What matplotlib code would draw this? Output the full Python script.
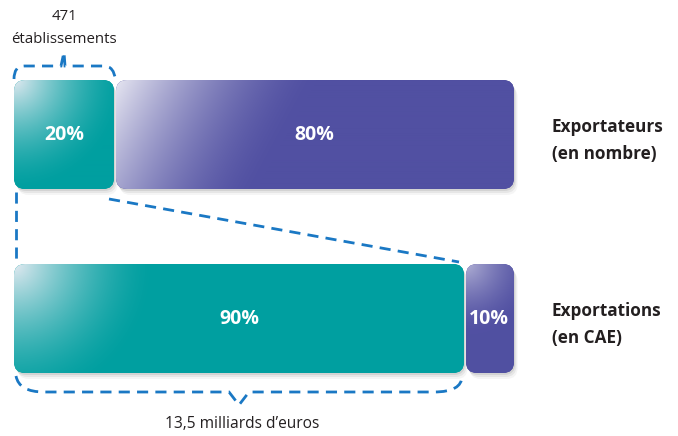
import numpy as np
import matplotlib
matplotlib.use("Agg")
import matplotlib.pyplot as plt
from matplotlib.patches import FancyBboxPatch, PathPatch
from matplotlib.path import Path
from matplotlib.colors import to_rgb

# ---------------- data ----------------
rows = ["Exportateurs\n(en nombre)", "Exportations\n(en CAE)"]
part_a = [20, 90]          # teal segment (%)
part_b = [80, 10]          # purple segment (%)
top_note = "471\nétablissements"
bottom_note = "13,5 milliards d\u2019euros"

# ---------------- style ----------------
TEAL = "#009fa0"
PURPLE = "#5150a2"
DASH = "#1a78c4"
FONT = ["Open Sans", "DejaVu Sans"]
plt.rcParams["font.family"] = FONT

W, H = 678, 436
fig = plt.figure(figsize=(W / 100, H / 100), dpi=100)
ax = fig.add_axes([0, 0, 1, 1])
PXX = 5.0                       # pixels per percent on x
X0 = 14                         # pixel of 0 %
ax.set_xlim(-X0 / PXX, (W - X0) / PXX)
ax.set_ylim(H, 0)
ax.axis("off")

row_top = [80, 264]
row_h = 109
gap = 0.4      # percent units (2 px)
rad = 2.2      # rounding in percent units (11 px)


def shaded_box(x, y, w, h, color, kind, L, wmax, direction=(1.0, 0.0), z=2):
    # shadow
    for off, a in [(6, 0.04), (4, 0.06), (2, 0.08)]:
        sh = FancyBboxPatch((x + off * 0.6 / PXX, y + off), w, h,
                            boxstyle=f"round,pad=0,rounding_size={rad}",
                            mutation_aspect=PXX, fc="black", ec="none",
                            alpha=a, zorder=z - 1)
        ax.add_patch(sh)
    p = FancyBboxPatch((x, y), w, h, boxstyle=f"round,pad=0,rounding_size={rad}",
                       mutation_aspect=PXX, fc=color, ec="none", zorder=z)
    ax.add_patch(p)
    npx_w = max(int(w * PXX), 2)
    npx_h = max(int(h), 2)
    xx, yy = np.meshgrid(np.arange(npx_w), np.arange(npx_h))
    if kind == "radial":
        d = np.sqrt(xx ** 2 + yy ** 2)
    else:
        dx, dy = direction
        n = np.hypot(dx, dy)
        d = (xx * dx + yy * dy) / n
    t = np.clip(1 - d / L, 0, 1) ** 1.6 * wmax
    base = np.array(to_rgb(color))
    img = base[None, None, :] * (1 - t[..., None]) + np.array([0.93, 0.93, 0.96])[None, None, :] * t[..., None]
    im = ax.imshow(img, extent=(x, x + w, y + h, y), origin="upper",
                   aspect="auto", zorder=z + 0.5, interpolation="bilinear")
    im.set_clip_path(p)
    return p


# top row
y = row_top[0]
shaded_box(0, y, part_a[0], row_h, TEAL, "radial", 110, 0.95)
shaded_box(part_a[0] + gap, y, part_b[0] - gap, row_h, PURPLE, "linear", 175, 0.95,
           direction=(109, 60))
# bottom row
y = row_top[1]
shaded_box(0, y, part_a[1], row_h, TEAL, "radial", 140, 0.95)
shaded_box(part_a[1] + gap, y, part_b[1] - gap, row_h, PURPLE, "radial", 70, 0.6)

# percentage labels
lbl_kw = dict(color="white", fontsize=14, fontweight="bold", ha="center",
              va="center", zorder=5)
for r in range(2):
    yc = row_top[r] + row_h / 2
    ax.text(part_a[r] / 2, yc, f"{part_a[r]}%", **lbl_kw)
    ax.text(part_a[r] + part_b[r] / 2, yc, f"{part_b[r]}%", **lbl_kw)

# row labels
for r in range(2):
    ax.text(107.6, row_top[r] + row_h / 2 + 6, rows[r], fontsize=12.3,
            fontweight="bold", color="#231f20", ha="left", va="center",
            linespacing=1.6)

# dashed connectors
dkw = dict(color=DASH, lw=2.0, linestyle=(0, (4, 2.6)), zorder=6)


def dpath(verts, codes):
    pp = PathPatch(Path(verts, codes), fill=False, ec=DASH, lw=2.0,
                   linestyle=(0, (4, 2.6)), zorder=6, capstyle="butt")
    ax.add_patch(pp)


# top brace over first teal segment
a = part_a[0]
mid = a / 2
M, C3, L2 = Path.MOVETO, Path.CURVE3, Path.LINETO
dpath([(0, 79), (0, 66), (10 / PXX, 66), (mid - 3 / PXX, 66), (mid, 52),
       (mid + 1 / PXX, 66), (mid + 5 / PXX, 66), (a - 10 / PXX, 66),
       (a, 66), (a + 0.3, 80)],
      [M, C3, C3, L2, L2, L2, L2, L2, C3, C3])

# vertical left line
ax.plot([0.4, 0.4], [192, 260], **dkw)
# diagonal line
ax.plot([a - 1, part_a[1] - 1], [199, 262], **dkw)

# bottom brace under second teal segment
b = part_a[1]
mid = b / 2
dpath([(0.4, 376), (1.0, 392), (30 / PXX, 392), (mid - 10 / PXX, 392),
       (mid, 405), (mid + 10 / PXX, 392), (b - 30 / PXX, 392),
       (b - 0.4, 392), (b - 0.4, 376)],
      [M, C3, C3, L2, L2, L2, L2, C3, C3])

# notes
ax.text(part_a[0] / 2, 28, top_note, fontsize=10.8, color="#231f20",
        ha="center", va="center", linespacing=1.7)
ax.text(part_a[1] / 2 + 0.6, 424, bottom_note, fontsize=11.2, color="#231f20",
        ha="center", va="center")

fig.savefig("out.png", dpi=100)
